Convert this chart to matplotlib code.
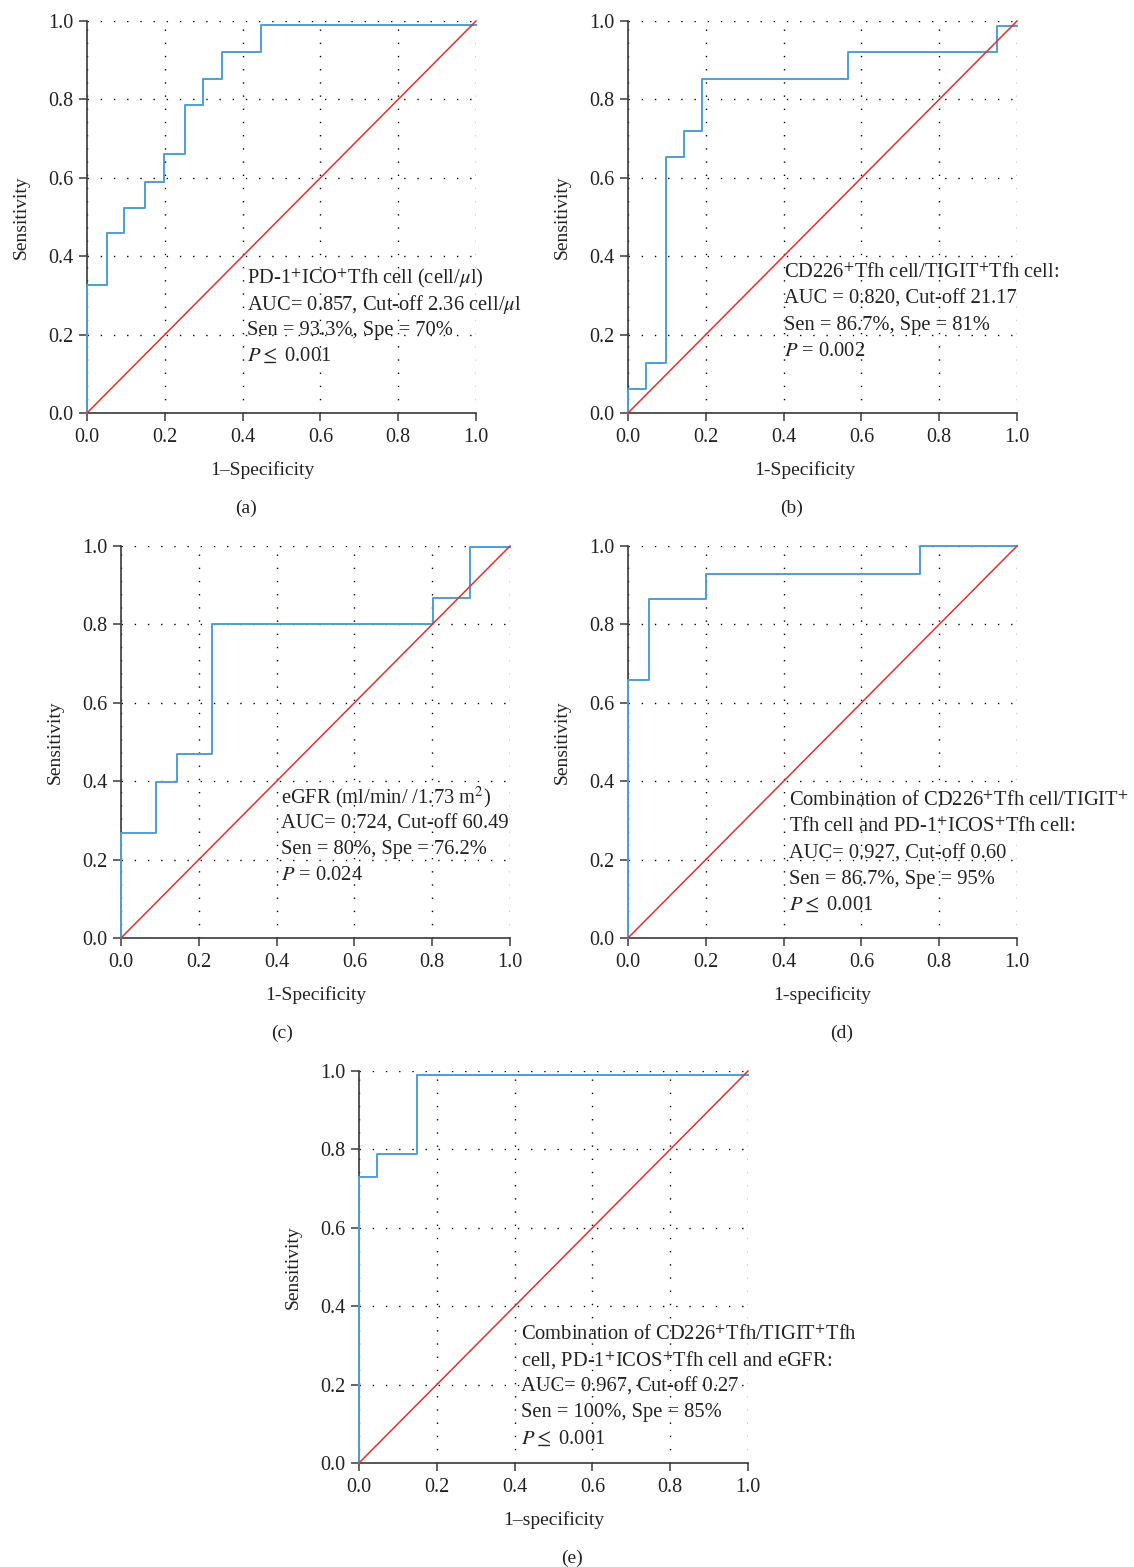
import matplotlib
matplotlib.use("Agg")
import matplotlib.pyplot as plt

plt.rcParams['font.family'] = ['Liberation Serif', 'DejaVu Serif']
plt.rcParams['mathtext.fontset'] = 'stix'

# ROC corner points (1-specificity, sensitivity)
fpr_a = [0, 0, 0.052, 0.095, 0.150, 0.198, 0.251, 0.297, 0.348, 0.447, 1.0]
tpr_a = [0, 0.327, 0.460, 0.523, 0.590, 0.660, 0.786, 0.851, 0.922, 0.989, 0.989]
fpr_b = [0, 0, 0.047, 0.097, 0.145, 0.191, 0.566, 0.949, 1.0]
tpr_b = [0, 0.060, 0.128, 0.654, 0.719, 0.853, 0.922, 0.986, 0.986]
fpr_c = [0, 0, 0.089, 0.144, 0.233, 0.802, 0.896, 1.0]
tpr_c = [0, 0.269, 0.398, 0.469, 0.800, 0.868, 0.997, 0.997]
fpr_d = [0, 0, 0.053, 0.200, 0.750, 1.0]
tpr_d = [0, 0.658, 0.864, 0.929, 1.0, 1.0]
fpr_e = [0, 0, 0.047, 0.150, 1.0]
tpr_e = [0, 0.730, 0.789, 0.990, 0.990]

ticks = [0.0, 0.2, 0.4, 0.6, 0.8, 1.0]

notes_a = ["PD-1$^{+}$ICO$^{+}$Tfh cell (cell/$\\mu$l)",
           "AUC= 0.857, Cut-off 2.36 cell/$\\mu$l",
           "Sen = 93.3%, Spe = 70%",
           "$P \\leq$ 0.001"]
notes_b = ["CD226$^{+}$Tfh cell/TIGIT$^{+}$Tfh cell:",
           "AUC = 0.820, Cut-off 21.17",
           "Sen = 86.7%, Spe = 81%",
           "$P$ = 0.002"]
notes_c = ["eGFR (ml/min/ /1.73 m$^{2}$)",
           "AUC= 0.724, Cut-off 60.49",
           "Sen = 80%, Spe = 76.2%",
           "$P$ = 0.024"]
notes_d = ["Combination of CD226$^{+}$Tfh cell/TIGIT$^{+}$",
           "Tfh cell and PD-1$^{+}$ICOS$^{+}$Tfh cell:",
           "AUC= 0.927, Cut-off 0.60",
           "Sen = 86.7%, Spe = 95%",
           "$P \\leq$ 0.001"]
notes_e = ["Combination of CD226$^{+}$Tfh/TIGIT$^{+}$Tfh",
           "cell, PD-1$^{+}$ICOS$^{+}$Tfh cell and eGFR:",
           "AUC= 0.967, Cut-off 0.27",
           "Sen = 100%, Spe = 85%",
           "$P \\leq$ 0.001"]

W, H = 1134, 1567
fig = plt.figure(figsize=(W / 100, H / 100), dpi=100)
ink = '#222222'


def panel(left_px, bottom_px, fpr, tpr, notes, note_xy, xlabel, xlabel_x, tag, tag_x):
    ax = fig.add_axes([left_px / W, (H - bottom_px) / H, 389 / W, 392 / H])
    ax.plot([0, 1], [0, 1], color='#e5302a', lw=1.1, zorder=4, clip_on=False)
    ax.step(fpr, tpr, where='post', color='#4c9fd6', lw=1.4, zorder=3, clip_on=False)
    ax.set_xlim(0, 1)
    ax.set_ylim(0, 1)
    ax.set_xticks(ticks)
    ax.set_yticks(ticks)
    ax.set_xticklabels(['%.1f' % t for t in ticks])
    ax.set_yticklabels(['%.1f' % t for t in ticks])
    ax.grid(True, color='black', lw=1.0, linestyle=(0, (1, 8.5)))
    for s in ['top', 'right']:
        ax.spines[s].set_visible(False)
    for s in ['left', 'bottom']:
        ax.spines[s].set_color('#3a3a3a')
        ax.spines[s].set_linewidth(1.2)
    ax.tick_params(axis='both', direction='out', length=5.5, width=1.1,
                   color='#3a3a3a', labelsize=14.5, labelcolor=ink)
    ax.tick_params(axis='x', pad=5)
    ax.tick_params(axis='y', pad=4)
    ax.text(-0.17, 0.5, 'Sensitivity', rotation=90, transform=ax.transAxes,
            ha='center', va='center', fontsize=14, color=ink)
    ax.text(xlabel_x, -0.145, xlabel, transform=ax.transAxes,
            ha='center', va='center', fontsize=14, color=ink)
    ax.text(tag_x, -0.242, tag, transform=ax.transAxes,
            ha='center', va='center', fontsize=14, color=ink)
    x0, y0 = note_xy
    for i, line in enumerate(notes):
        ax.text(x0, y0 - i * 0.0663, line, ha='left', va='center',
                fontsize=14.8, color=ink, zorder=5)
    return ax


panel(87, 413, fpr_a, tpr_a, notes_a, (0.411, 0.344), '1\u2013Specificity', 0.45, '(a)', 0.41)
panel(628, 413, fpr_b, tpr_b, notes_b, (0.401, 0.357), '1-Specificity', 0.455, '(b)', 0.42)
panel(121, 938, fpr_c, tpr_c, notes_c, (0.411, 0.358), '1-Specificity', 0.50, '(c)', 0.414)
panel(628, 938, fpr_d, tpr_d, notes_d, (0.414, 0.348), '1-specificity', 0.50, '(d)', 0.55)
panel(359, 1463, fpr_e, tpr_e, notes_e, (0.416, 0.327), '1\u2013specificity', 0.50, '(e)', 0.547)

fig.savefig('out.png', dpi=100)
